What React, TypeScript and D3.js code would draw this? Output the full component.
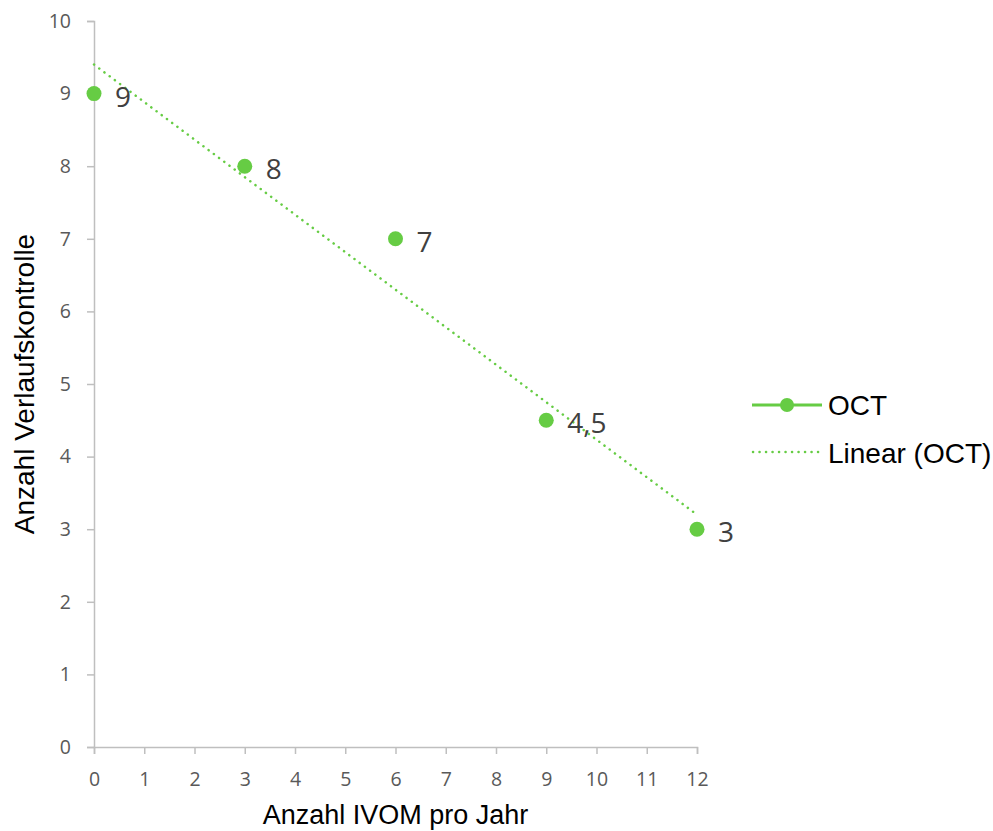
import React, { useEffect, useRef } from 'react';
import * as d3 from 'd3';

const ivom = [0, 3, 6, 9, 12];
const kontrolle = [9, 8, 7, 4.5, 3];
const labels = ['9', '8', '7', '4,5', '3'];
const xTicks = [0, 1, 2, 3, 4, 5, 6, 7, 8, 9, 10, 11, 12];
const yTicks = [0, 1, 2, 3, 4, 5, 6, 7, 8, 9, 10];

const green = '#66cc44';
const arial = '"Liberation Sans", Arial, sans-serif';

const App = () => {
  const ref = useRef<SVGSVGElement>(null);

  useEffect(() => {
    const svg = d3.select(ref.current);
    svg.selectAll('*').remove();

    const x = d3.scaleLinear().domain([0, 12]).range([94, 697]);
    const y = d3.scaleLinear().domain([0, 10]).range([747, 21]);

    // y axis
    const yAxis = svg.append('g').attr('transform', `translate(${x(0)},0)`)
      .call(d3.axisLeft(y).tickValues(yTicks).tickSize(7).tickSizeOuter(7).tickPadding(16));
    // x axis
    const xAxis = svg.append('g').attr('transform', `translate(0,${y(0)})`)
      .call(d3.axisBottom(x).tickValues(xTicks).tickSize(7).tickSizeOuter(7).tickPadding(18));

    [yAxis, xAxis].forEach(a => {
      a.select('.domain').attr('stroke', '#bfbfbf').attr('stroke-width', 1.5);
      a.selectAll('.tick line').attr('stroke', '#bfbfbf').attr('stroke-width', 1.5);
      a.selectAll('.tick text')
        .attr('fill', '#595959')
        .style('font-family', '"Open Sans", sans-serif')
        .style('font-size', '19.5px');
    });

    // linear trend (least squares)
    const mx = d3.mean(ivom)!;
    const my = d3.mean(kontrolle)!;
    const sxy = d3.sum(ivom, (v, i) => (v - mx) * (kontrolle[i] - my));
    const sxx = d3.sum(ivom, v => (v - mx) ** 2);
    const slope = sxy / sxx;
    const icpt = my - slope * mx;
    const [x0, x1] = d3.extent(ivom) as [number, number];

    svg.append('line')
      .attr('x1', x(x0)).attr('y1', y(icpt + slope * x0))
      .attr('x2', x(x1)).attr('y2', y(icpt + slope * x1))
      .attr('stroke', green).attr('stroke-width', 2.5)
      .attr('stroke-linecap', 'round')
      .attr('stroke-dasharray', '0.1 6.4');

    svg.selectAll('.pt')
      .data(ivom)
      .enter()
      .append('circle')
      .attr('class', 'pt')
      .attr('cx', d => x(d))
      .attr('cy', (d, i) => y(kontrolle[i]))
      .attr('r', 7.5)
      .attr('fill', green);

    svg.selectAll('.lbl')
      .data(ivom)
      .enter()
      .append('text')
      .attr('class', 'lbl')
      .attr('x', d => x(d) + 21)
      .attr('y', (d, i) => y(kontrolle[i]) + 13)
      .attr('fill', '#404040')
      .style('font-family', '"Open Sans", sans-serif')
      .style('font-size', '28px')
      .text((d, i) => labels[i]);

    // axis titles
    svg.append('text')
      .attr('x', (x(0) + x(12)) / 2)
      .attr('y', 824)
      .attr('text-anchor', 'middle')
      .style('font-family', arial)
      .style('font-size', '27px')
      .text('Anzahl IVOM pro Jahr');

    svg.append('text')
      .attr('transform', `translate(34,${(y(0) + y(10)) / 2}) rotate(-90)`)
      .attr('text-anchor', 'middle')
      .style('font-family', arial)
      .style('font-size', '28px')
      .text('Anzahl Verlaufskontrolle');

    // legend
    const lg = svg.append('g');
    lg.append('line').attr('x1', 752).attr('x2', 822).attr('y1', 405).attr('y2', 405)
      .attr('stroke', green).attr('stroke-width', 3);
    lg.append('circle').attr('cx', 787).attr('cy', 405).attr('r', 7).attr('fill', green);
    lg.append('text').attr('x', 828).attr('y', 415)
      .style('font-family', arial)
      .style('font-size', '28px').text('OCT');
    lg.append('line').attr('x1', 753).attr('x2', 820).attr('y1', 452).attr('y2', 452)
      .attr('stroke', green).attr('stroke-width', 2.5)
      .attr('stroke-linecap', 'round')
      .attr('stroke-dasharray', '0.1 6.4');
    lg.append('text').attr('x', 828).attr('y', 463)
      .style('font-family', arial)
      .style('font-size', '28px').text('Linear (OCT)');
  }, []);

  return (
    <svg ref={ref} width={993} height={831}
      style={{ position: 'absolute', left: 0, top: 0, background: '#fff' }} />
  );
};

export default App;
